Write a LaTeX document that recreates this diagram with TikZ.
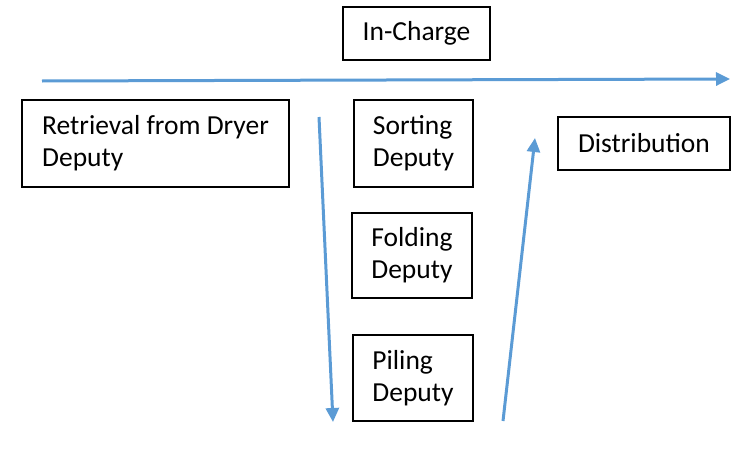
\documentclass[tikz,border=0pt]{standalone}
\usepackage{fontspec}
\setmainfont{Carlito}
\usepackage{tikz}
\usetikzlibrary{arrows.meta, positioning}
\usepackage{xcolor}
\definecolor{flowblue}{RGB}{91, 155, 213}
\definecolor{textdark}{RGB}{0, 0, 0}

\begin{document}
\begin{tikzpicture}[
    x=1pt, y=-1pt,
    deputy/.style={rectangle, draw=textdark, line width=1.2pt, inner sep=0pt, align=left, font=\fontsize{27.5}{32}\selectfont, text=textdark},
    flow/.style={-{Triangle[length=14pt, width=13pt]}, line width=3pt, color=flowblue},
]
\useasboundingbox (0,0) rectangle (747,463);

% Head
\node[deputy, minimum width=147pt, minimum height=53pt] (incharge) at (416.5, 33.5) {In-Charge};

% Deputies
\node[deputy, minimum width=267pt, minimum height=87pt] (retrieval) at (155.5, 143.5) {Retrieval from Dryer\\Deputy};
\node[deputy, minimum width=119pt, minimum height=87pt] (sorting) at (413.5, 143.5) {Sorting\\Deputy};
\node[deputy, minimum width=120pt, minimum height=85pt] (folding) at (412, 255.5) {Folding\\Deputy};
\node[deputy, minimum width=120pt, minimum height=86pt] (piling) at (413, 378) {Piling\\Deputy};
\node[deputy, minimum width=172pt, minimum height=53pt] (distribution) at (644, 143.5) {Distribution};

% Arrow ends
\coordinate (topstart) at (42, 81);
\coordinate (topend) at (730, 79);
\coordinate (downstart) at (319, 117);
\coordinate (downend) at (333, 422);
\coordinate (upstart) at (503, 421);
\coordinate (upend) at (535, 138);

% Arrows
\draw[flow] (topstart) -- (topend);
\draw[flow] (downstart) -- (downend);
\draw[flow] (upstart) -- (upend);

\end{tikzpicture}
\end{document}
